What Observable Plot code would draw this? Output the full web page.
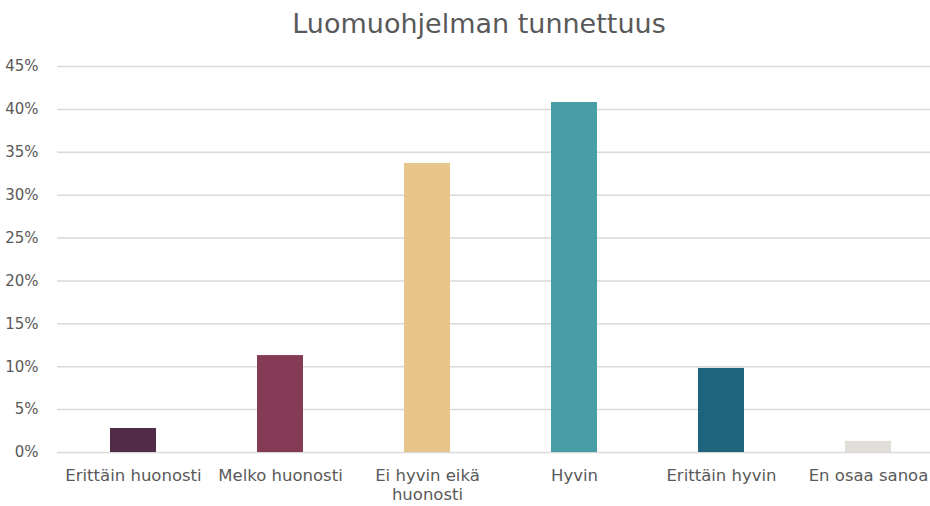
<!DOCTYPE html>
<html>
<head>
<meta charset="utf-8">
<script src="https://cdn.jsdelivr.net/npm/d3@7"></script>
<script src="https://cdn.jsdelivr.net/npm/@observablehq/plot@0.6"></script>
<style>
  html, body { margin: 0; padding: 0; background: #fff; width: 930px; height: 506px; overflow: hidden; }
  #title { position: absolute; left: 0; top: 0; width: 958px; height: 50px; text-align: center;
           font-family: "DejaVu Sans", sans-serif; font-size: 27px; color: #595959; line-height: 48px; }
  #chart { position: absolute; left: 0; top: 50px; }
</style>
</head>
<body>
<div id="title">Luomuohjelman tunnettuus</div>
<div id="chart"></div>
<script>
const categories = ["Erittäin huonosti", "Melko huonosti", "Ei hyvin eikä huonosti", "Hyvin", "Erittäin hyvin", "En osaa sanoa"];
const tickLabels = ["Erittäin huonosti", "Melko huonosti", "Ei hyvin eikä\nhuonosti", "Hyvin", "Erittäin hyvin", "En osaa sanoa"];
const values = [0.028, 0.113, 0.337, 0.408, 0.098, 0.013];
const colors = ["#512C46", "#853A55", "#E6C48A", "#489EA5", "#1F647D", "#E1DDD9"];
const yTicks = [0, 0.05, 0.10, 0.15, 0.20, 0.25, 0.30, 0.35, 0.40, 0.45];

const data = categories.map((c, i) => ({category: c, value: values[i]}));
const labelOf = new Map(categories.map((c, i) => [c, tickLabels[i]]));

const chart = Plot.plot({
  width: 930,
  height: 456,
  marginTop: 16,
  marginBottom: 54,
  marginLeft: 57,
  marginRight: 0,
  style: {fontFamily: "'DejaVu Sans', sans-serif", fontSize: "15px", color: "#595959", background: "#fff"},
  x: {domain: categories, range: [57, 943], paddingInner: 0.69, paddingOuter: 0.345, align: 0.5, label: null},
  y: {domain: [0, 0.45], label: null},
  color: {domain: categories, range: colors},
  marks: [
    Plot.ruleY(yTicks, {stroke: "#D9D9D9", strokeWidth: 1.5}),
    Plot.barY(data, {x: "category", y: "value", fill: "category"}),
    Plot.axisY({ticks: yTicks, tickFormat: d3.format(".0%"), tickSize: 0, tickPadding: 19, fontSize: 15, fill: "#595959"}),
    Plot.axisX({tickFormat: d => labelOf.get(d), tickSize: 0, tickPadding: 14, fontSize: 16.5, fill: "#595959", lineHeight: 1.2})
  ]
});
document.getElementById("chart").appendChild(chart);
</script>
</body>
</html>
